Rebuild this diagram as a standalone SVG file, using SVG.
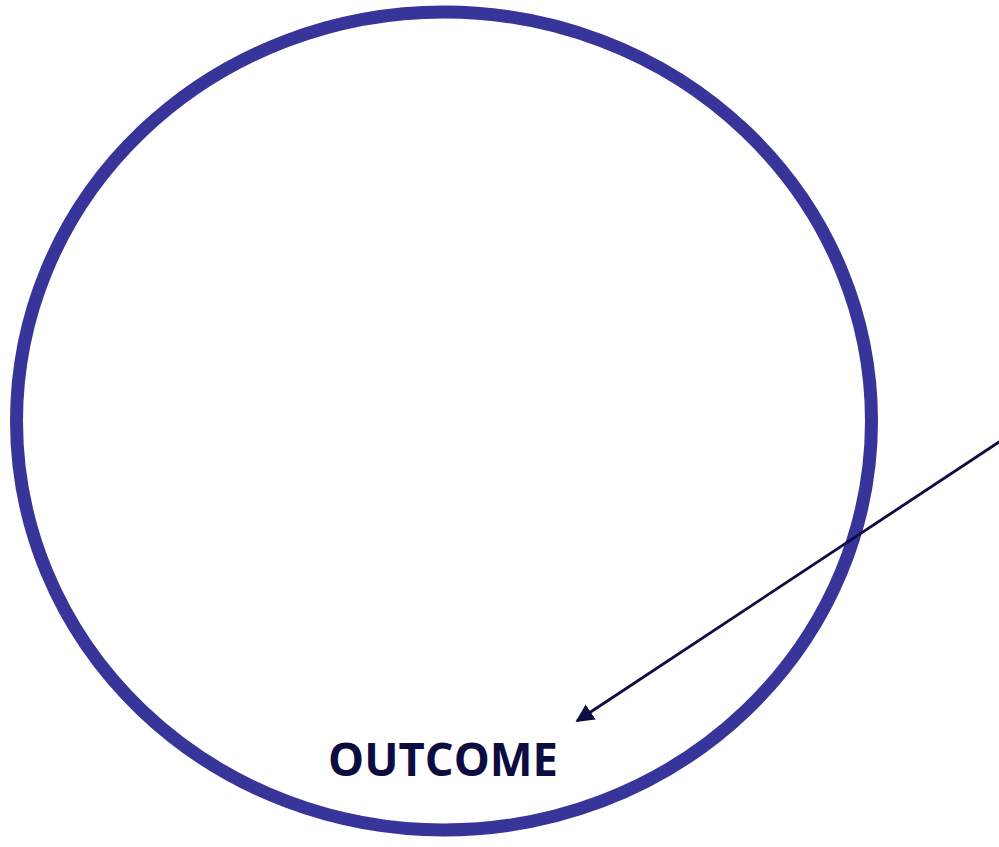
<svg xmlns="http://www.w3.org/2000/svg" width="999" height="847" viewBox="0 0 999 847">
<defs>
<style>
.ring{fill:none;stroke:#37359a;stroke-width:13}
.conn{stroke:#0c0c40;stroke-width:2.8;fill:none}
.lbl{font-family:"Open Sans","Liberation Sans",sans-serif;font-weight:bold;font-size:46px;fill:#0c0c40}
</style>
<marker id="ah" viewBox="0 0 10 10" refX="9" refY="5" markerWidth="6.5" markerHeight="6.5" markerUnits="strokeWidth" orient="auto">
<path d="M0,0 L10,5 L0,10 Z" fill="#0c0c40"/>
</marker>
</defs>
<g id="circle">
<ellipse class="ring" cx="444" cy="421" rx="427.5" ry="409"/>
</g>
<g id="outcome">
<text class="lbl" x="443" y="776" text-anchor="middle" textLength="230" lengthAdjust="spacingAndGlyphs">OUTCOME</text>
</g>
<g id="connectors">
<line class="conn" x1="1002" y1="440" x2="577" y2="721" marker-end="url(#ah)"/>
</g>
</svg>
